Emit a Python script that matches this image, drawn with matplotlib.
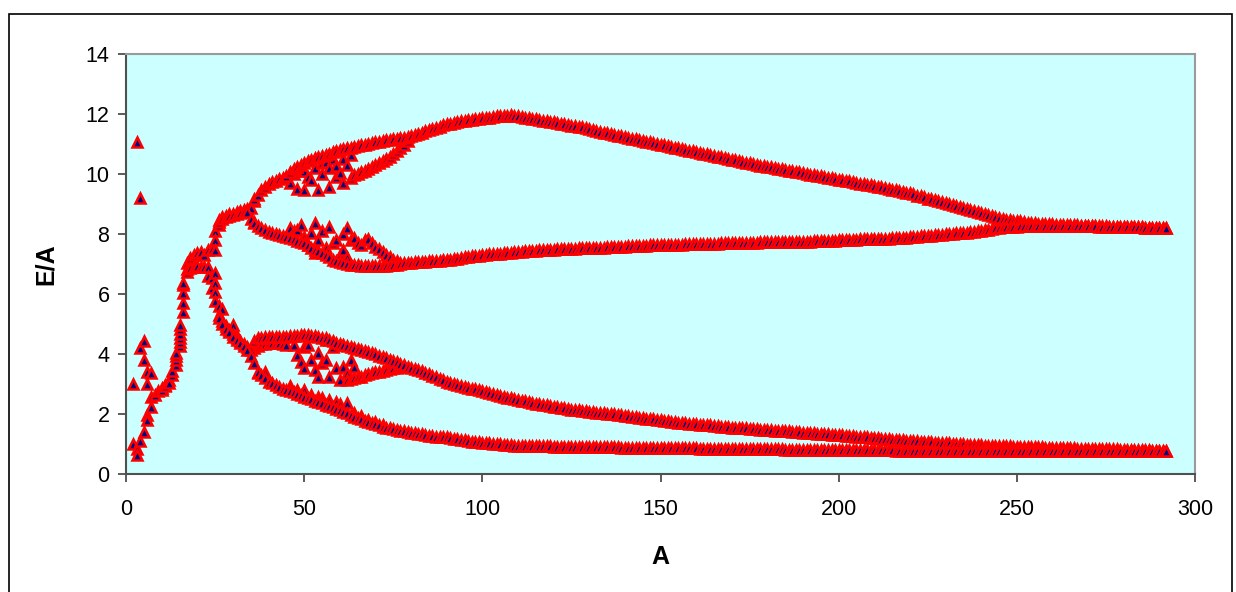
import matplotlib
matplotlib.use("Agg")
import matplotlib.pyplot as plt
from matplotlib.patches import Rectangle

# A values for the four settled branches
a_branch = list(range(26, 293))

# upper branch
b1 = [8.45, 8.55, 8.6, 8.65, 8.68, 8.72, 8.76, 8.8, 8.84, 8.88,
      9.15, 9.3, 9.45, 9.57, 9.65, 9.72, 9.78, 9.84, 9.88, 9.92,
      10.05, 10.15, 10.22, 10.3, 10.38, 10.43, 10.47, 10.52, 10.57, 10.6,
      10.63, 10.68, 10.72, 10.76, 10.8, 10.83, 10.85, 10.87, 10.89, 10.92,
      10.95, 10.98, 11.0, 11.03, 11.05, 11.08, 11.1, 11.12, 11.13, 11.15,
      11.17, 11.19, 11.2, 11.22, 11.25, 11.3, 11.34, 11.38, 11.42, 11.46,
      11.5, 11.54, 11.58, 11.62, 11.66, 11.68, 11.71, 11.73, 11.75, 11.77,
      11.79, 11.8, 11.82, 11.83, 11.85, 11.87, 11.88, 11.9, 11.92, 11.93,
      11.94, 11.94, 11.95, 11.94, 11.93, 11.9, 11.88, 11.86, 11.84, 11.82,
      11.8, 11.78, 11.76, 11.74, 11.72, 11.7, 11.67, 11.65, 11.63, 11.61,
      11.59, 11.57, 11.55, 11.52, 11.5, 11.47, 11.44, 11.41, 11.38, 11.35,
      11.32, 11.3, 11.28, 11.25, 11.23, 11.2, 11.18, 11.15, 11.13, 11.1,
      11.08, 11.05, 11.03, 11.0, 10.98, 10.95, 10.92, 10.9, 10.87, 10.85,
      10.83, 10.8, 10.78, 10.75, 10.73, 10.7, 10.68, 10.65, 10.63, 10.6,
      10.58, 10.55, 10.53, 10.5, 10.48, 10.45, 10.43, 10.4, 10.38, 10.35,
      10.33, 10.31, 10.28, 10.26, 10.24, 10.22, 10.2, 10.18, 10.15, 10.13,
      10.11, 10.09, 10.07, 10.05, 10.03, 10.0, 9.98, 9.96, 9.94, 9.92,
      9.9, 9.87, 9.85, 9.83, 9.81, 9.79, 9.77, 9.75, 9.72, 9.7,
      9.68, 9.66, 9.64, 9.62, 9.6, 9.57, 9.55, 9.52, 9.5, 9.47,
      9.45, 9.43, 9.4, 9.37, 9.35, 9.32, 9.28, 9.25, 9.22, 9.18,
      9.15, 9.12, 9.09, 9.05, 9.02, 9.0, 8.97, 8.93, 8.9, 8.86,
      8.83, 8.8, 8.76, 8.73, 8.7, 8.67, 8.64, 8.6, 8.57, 8.54,
      8.51, 8.48, 8.46, 8.44, 8.43, 8.42, 8.4, 8.38, 8.37, 8.36,
      8.35, 8.34, 8.33, 8.32, 8.32, 8.31, 8.31, 8.3, 8.3, 8.3,
      8.29, 8.29, 8.28, 8.28, 8.28, 8.27, 8.27, 8.26, 8.26, 8.26,
      8.25, 8.25, 8.24, 8.24, 8.23, 8.23, 8.23, 8.22, 8.22, 8.22,
      8.21, 8.21, 8.21, 8.2, 8.2, 8.2, 8.2]

# second branch
b2 = [8.4, 8.5, 8.55, 8.6, 8.62, 8.66, 8.7, 8.72, 8.74, 8.5,
      8.36, 8.28, 8.2, 8.14, 8.08, 8.04, 8.0, 7.97, 7.94, 7.91,
      7.87, 7.83, 7.78, 7.73, 7.69, 7.62, 7.55, 7.48, 7.42, 7.36,
      7.3, 7.22, 7.15, 7.1, 7.06, 7.03, 7.0, 6.98, 6.97, 6.96,
      6.95, 6.94, 6.93, 6.93, 6.93, 6.94, 6.94, 6.95, 6.96, 6.97,
      6.98, 7.0, 7.02, 7.03, 7.05, 7.06, 7.07, 7.08, 7.08, 7.09,
      7.1, 7.1, 7.11, 7.12, 7.12, 7.14, 7.16, 7.18, 7.2, 7.22,
      7.24, 7.26, 7.27, 7.28, 7.3, 7.31, 7.32, 7.33, 7.34, 7.35,
      7.36, 7.37, 7.38, 7.39, 7.4, 7.41, 7.42, 7.43, 7.44, 7.45,
      7.46, 7.47, 7.47, 7.48, 7.48, 7.49, 7.49, 7.5, 7.5, 7.51,
      7.51, 7.52, 7.52, 7.53, 7.53, 7.54, 7.54, 7.55, 7.55, 7.56,
      7.56, 7.57, 7.57, 7.58, 7.58, 7.59, 7.59, 7.6, 7.6, 7.61,
      7.61, 7.62, 7.62, 7.62, 7.63, 7.63, 7.64, 7.64, 7.65, 7.65,
      7.65, 7.66, 7.66, 7.66, 7.67, 7.67, 7.67, 7.68, 7.68, 7.68,
      7.68, 7.69, 7.69, 7.69, 7.7, 7.7, 7.7, 7.7, 7.71, 7.71,
      7.71, 7.71, 7.72, 7.72, 7.72, 7.72, 7.72, 7.73, 7.73, 7.73,
      7.73, 7.74, 7.74, 7.74, 7.75, 7.75, 7.75, 7.76, 7.76, 7.76,
      7.77, 7.77, 7.78, 7.78, 7.79, 7.79, 7.8, 7.8, 7.81, 7.81,
      7.82, 7.82, 7.82, 7.83, 7.83, 7.84, 7.84, 7.85, 7.85, 7.86,
      7.86, 7.87, 7.87, 7.88, 7.89, 7.9, 7.91, 7.92, 7.93, 7.94,
      7.95, 7.96, 7.97, 7.98, 7.99, 8.0, 8.01, 8.02, 8.03, 8.04,
      8.05, 8.06, 8.07, 8.09, 8.11, 8.13, 8.15, 8.17, 8.19, 8.21,
      8.22, 8.23, 8.24, 8.25, 8.25, 8.26, 8.26, 8.27, 8.27, 8.28,
      8.28, 8.28, 8.28, 8.28, 8.28, 8.28, 8.28, 8.28, 8.27, 8.27,
      8.27, 8.27, 8.27, 8.26, 8.26, 8.26, 8.26, 8.25, 8.25, 8.25,
      8.25, 8.24, 8.24, 8.24, 8.23, 8.23, 8.23, 8.22, 8.22, 8.22,
      8.21, 8.21, 8.21, 8.2, 8.2, 8.2, 8.2]

# third branch
b3 = [5.3, 5.1, 4.92, 4.8, 4.66, 4.52, 4.42, 4.32, 4.22, 4.14,
      4.45, 4.52, 4.55, 4.57, 4.58, 4.58, 4.58, 4.58, 4.58, 4.58,
      4.59, 4.6, 4.61, 4.62, 4.63, 4.62, 4.61, 4.6, 4.58, 4.55,
      4.52, 4.48, 4.42, 4.36, 4.32, 4.29, 4.26, 4.23, 4.19, 4.16,
      4.13, 4.11, 4.08, 4.04, 4.0, 3.95, 3.9, 3.86, 3.81, 3.76,
      3.72, 3.67, 3.63, 3.58, 3.54, 3.5, 3.47, 3.42, 3.37, 3.32,
      3.27, 3.22, 3.17, 3.12, 3.07, 3.03, 3.0, 2.97, 2.94, 2.91,
      2.88, 2.85, 2.82, 2.79, 2.76, 2.73, 2.7, 2.67, 2.64, 2.61,
      2.58, 2.55, 2.52, 2.5, 2.47, 2.45, 2.42, 2.4, 2.38, 2.35,
      2.33, 2.31, 2.29, 2.27, 2.25, 2.23, 2.21, 2.19, 2.17, 2.15,
      2.13, 2.12, 2.1, 2.09, 2.08, 2.07, 2.05, 2.04, 2.03, 2.01,
      2.0, 1.99, 1.97, 1.96, 1.94, 1.93, 1.91, 1.9, 1.88, 1.87,
      1.85, 1.84, 1.82, 1.81, 1.79, 1.78, 1.76, 1.75, 1.73, 1.71,
      1.7, 1.69, 1.68, 1.67, 1.66, 1.65, 1.64, 1.63, 1.62, 1.6,
      1.59, 1.58, 1.57, 1.56, 1.55, 1.54, 1.53, 1.52, 1.52, 1.51,
      1.5, 1.49, 1.48, 1.47, 1.47, 1.46, 1.45, 1.44, 1.43, 1.42,
      1.42, 1.41, 1.4, 1.39, 1.38, 1.37, 1.36, 1.36, 1.35, 1.34,
      1.33, 1.32, 1.31, 1.3, 1.3, 1.29, 1.28, 1.27, 1.26, 1.25,
      1.24, 1.23, 1.22, 1.21, 1.2, 1.19, 1.18, 1.17, 1.16, 1.15,
      1.14, 1.13, 1.12, 1.11, 1.1, 1.1, 1.09, 1.08, 1.07, 1.06,
      1.06, 1.05, 1.04, 1.03, 1.03, 1.02, 1.01, 1.0, 1.0, 0.99,
      0.98, 0.98, 0.97, 0.96, 0.96, 0.95, 0.95, 0.94, 0.94, 0.93,
      0.93, 0.92, 0.92, 0.91, 0.91, 0.91, 0.9, 0.9, 0.9, 0.89,
      0.89, 0.89, 0.88, 0.88, 0.88, 0.87, 0.87, 0.87, 0.86, 0.86,
      0.86, 0.85, 0.85, 0.85, 0.84, 0.84, 0.84, 0.83, 0.83, 0.83,
      0.82, 0.82, 0.82, 0.81, 0.81, 0.81, 0.8, 0.8, 0.8, 0.79,
      0.79, 0.79, 0.78, 0.78, 0.78, 0.78, 0.77]

# lowest branch
b4 = [5.2, 5.0, 4.85, 4.72, 4.58, 4.46, 4.36, 4.26, 4.12, 3.95,
      3.69, 3.4, 3.3, 3.2, 3.08, 3.02, 2.96, 2.9, 2.85, 2.8,
      2.76, 2.72, 2.67, 2.62, 2.58, 2.54, 2.49, 2.45, 2.4, 2.36,
      2.31, 2.27, 2.22, 2.17, 2.13, 2.07, 2.02, 1.96, 1.9, 1.86,
      1.82, 1.77, 1.73, 1.7, 1.66, 1.62, 1.58, 1.55, 1.52, 1.49,
      1.46, 1.44, 1.42, 1.4, 1.38, 1.36, 1.34, 1.32, 1.3, 1.28,
      1.26, 1.25, 1.24, 1.23, 1.22, 1.2, 1.18, 1.16, 1.14, 1.12,
      1.1, 1.08, 1.07, 1.06, 1.05, 1.04, 1.02, 1.01, 1.0, 0.99,
      0.98, 0.97, 0.96, 0.95, 0.95, 0.94, 0.94, 0.93, 0.93, 0.93,
      0.92, 0.92, 0.92, 0.92, 0.91, 0.91, 0.91, 0.91, 0.91, 0.9,
      0.9, 0.9, 0.9, 0.9, 0.9, 0.89, 0.89, 0.89, 0.89, 0.89,
      0.89, 0.89, 0.89, 0.88, 0.88, 0.88, 0.88, 0.88, 0.88, 0.88,
      0.87, 0.87, 0.87, 0.87, 0.87, 0.87, 0.87, 0.87, 0.87, 0.87,
      0.86, 0.86, 0.86, 0.86, 0.86, 0.85, 0.85, 0.85, 0.85, 0.85,
      0.84, 0.84, 0.84, 0.84, 0.84, 0.84, 0.83, 0.83, 0.83, 0.83,
      0.83, 0.83, 0.82, 0.82, 0.82, 0.82, 0.82, 0.82, 0.82, 0.81,
      0.81, 0.81, 0.81, 0.81, 0.81, 0.8, 0.8, 0.8, 0.8, 0.8,
      0.8, 0.8, 0.8, 0.8, 0.8, 0.8, 0.79, 0.79, 0.79, 0.79,
      0.79, 0.79, 0.79, 0.79, 0.79, 0.79, 0.79, 0.79, 0.79, 0.79,
      0.78, 0.78, 0.78, 0.78, 0.78, 0.78, 0.78, 0.78, 0.78, 0.78,
      0.78, 0.78, 0.78, 0.78, 0.78, 0.78, 0.78, 0.78, 0.78, 0.78,
      0.78, 0.78, 0.78, 0.78, 0.78, 0.77, 0.77, 0.77, 0.77, 0.77,
      0.77, 0.77, 0.77, 0.77, 0.77, 0.77, 0.77, 0.77, 0.77, 0.77,
      0.77, 0.77, 0.77, 0.77, 0.77, 0.77, 0.77, 0.77, 0.77, 0.77,
      0.76, 0.76, 0.76, 0.76, 0.76, 0.76, 0.76, 0.76, 0.76, 0.76,
      0.76, 0.76, 0.76, 0.76, 0.76, 0.76, 0.76, 0.76, 0.76, 0.76,
      0.76, 0.76, 0.76, 0.76, 0.76, 0.76, 0.76]

# light nuclei, before the first split
a_early = [2, 2, 3, 3, 3, 4, 4, 4, 5, 5, 5, 6, 6, 6, 6, 7, 7, 7, 8, 9,
           10, 10, 11, 11, 12, 12, 13, 13, 14, 14, 14, 14,
           15, 15, 15, 15, 15, 15, 16, 16, 16, 16, 16, 17, 17, 17,
           18, 18, 19, 19, 20, 20, 21, 21, 22, 22, 23, 23, 23,
           24, 24, 24, 25, 25, 25, 25, 25, 25, 25]
e_early = [3.0, 1.0, 11.08, 0.82, 0.65, 9.2, 4.2, 1.1, 4.45, 3.8, 1.4,
           3.4, 3.0, 1.97, 1.8, 3.38, 2.57, 2.25, 2.65, 2.76,
           2.88, 2.8, 2.98, 2.92, 3.15, 3.05, 3.3, 3.45, 3.65, 3.8, 3.92, 4.02,
           4.27, 4.4, 4.53, 4.68, 4.82, 4.97, 5.41, 5.69, 6.02, 6.3, 6.38,
           6.74, 7.02, 6.85, 7.19, 6.88, 7.3, 6.9, 7.36, 6.92, 7.41, 6.9,
           7.3, 6.9, 7.47, 6.91, 6.6, 7.5, 6.52, 6.2,
           8.1, 7.8, 7.47, 6.7, 6.37, 6.08, 5.78]

# scattered points around the splits and in the irregular band
a_scatter = [26, 26, 27, 30, 31, 36, 36, 37, 39,
             36, 37, 38, 39, 40, 41, 42, 43, 44, 45,
             46, 47, 48, 49, 50, 50, 51, 52, 53, 54, 55, 55, 56, 57, 57,
             58, 59, 59, 60, 61, 61, 62, 63, 63,
             46, 47, 48, 49, 50, 51, 52, 53, 53, 54, 55, 56, 57, 58, 59,
             60, 61, 61, 62, 62, 63,
             47, 48, 49, 50, 50, 51, 52, 53, 54, 54, 55, 56, 56, 57, 58,
             59, 60, 61, 61, 62, 63, 64,
             46, 48, 50, 52, 54, 55, 57, 59, 60, 62, 64, 66, 68, 70, 72]
e_scatter = [8.3, 5.6, 5.5, 4.97, 4.6, 9.1, 8.4, 3.36, 3.41,
             4.2, 4.28, 4.32, 4.35, 4.37, 4.38, 4.38, 4.36, 4.33, 4.3,
             9.7, 10.0, 9.5, 10.1, 9.47, 10.1, 9.9, 9.8, 10.2, 9.47, 10.0, 10.35,
             10.41, 9.58, 10.19, 10.5, 9.9, 10.25, 10.02, 9.69, 10.5, 10.3,
             10.63, 9.85,
             8.2, 8.1, 8.13, 8.3, 7.9, 7.63, 8.02, 8.36, 7.36, 7.8, 8.1, 7.55,
             8.24, 7.7, 7.8, 7.3, 7.47, 8.0, 8.19, 7.24, 7.8,
             4.3, 3.97, 3.74, 3.52, 4.24, 4.3, 3.8, 3.47, 3.24, 4.02, 3.7,
             3.8, 4.46, 3.24, 4.24, 3.52, 3.13, 3.58, 4.3, 3.36, 3.8, 3.58,
             2.95, 2.8, 2.8, 2.65, 2.58, 2.55, 2.47, 2.4, 2.35, 2.36, 2.05,
             1.92, 1.8, 1.72, 1.64]

# second values inside the loops just before they close again
a_loop_top = list(range(64, 80))
e_loop_top = [9.97, 10.0, 10.05, 10.1, 10.17, 10.23, 10.3, 10.37, 10.43,
              10.5, 10.58, 10.66, 10.76, 10.86, 10.98, 11.1]
a_loop_mid = list(range(64, 78))
e_loop_mid = [7.86, 7.7, 7.62, 7.8, 7.84, 7.7, 7.58, 7.5, 7.4, 7.3, 7.22,
              7.15, 7.1, 7.05]
a_loop_low = list(range(62, 78))
e_loop_low = [3.13, 3.18, 3.2, 3.22, 3.24, 3.3, 3.35, 3.38, 3.4, 3.41,
              3.45, 3.48, 3.5, 3.52, 3.54, 3.56]

plt.rcParams['font.family'] = ['Liberation Sans', 'DejaVu Sans']

fig = plt.figure(figsize=(12.36, 5.92), dpi=100)
ax = fig.add_axes([0.102, 0.1993, 0.8648, 0.7095])
ax.set_facecolor('#ccffff')

style = dict(linestyle='none', marker='^', markersize=7,
             markerfacecolor='#000080', markeredgecolor='#ff0000',
             markeredgewidth=1.8)

ax.plot(a_early, e_early, **style)
ax.plot(a_scatter, e_scatter, **style)
ax.plot(a_loop_top, e_loop_top, **style)
ax.plot(a_loop_mid, e_loop_mid, **style)
ax.plot(a_loop_low, e_loop_low, **style)
for branch in (b1, b2, b3, b4):
    ax.plot(a_branch, branch, **style)

ax.set_xlim(0, 300)
ax.set_ylim(0, 14)
ax.set_xticks(range(0, 301, 50))
ax.set_yticks(range(0, 15, 2))
ax.tick_params(axis='both', labelsize=15.5, length=6, width=1.2,
               color='#404040', direction='out')
ax.tick_params(axis='x', pad=12)
ax.tick_params(axis='y', pad=6)

for side in ('left', 'bottom'):
    ax.spines[side].set_color('#505050')
    ax.spines[side].set_linewidth(1.5)
for side in ('top', 'right'):
    ax.spines[side].set_color('#9a9a9a')
    ax.spines[side].set_linewidth(1.5)

ax.set_xlabel('A', fontsize=18, fontweight='bold', labelpad=18)
ax.set_ylabel('E/A', fontsize=18, fontweight='bold', labelpad=20)

# outer chart frame
fig.patches.append(Rectangle((0.0073, -0.05), 0.9895, 1.0264, transform=fig.transFigure,
                             fill=False, edgecolor='black', linewidth=1.2))

fig.savefig('out.png', dpi=100)
